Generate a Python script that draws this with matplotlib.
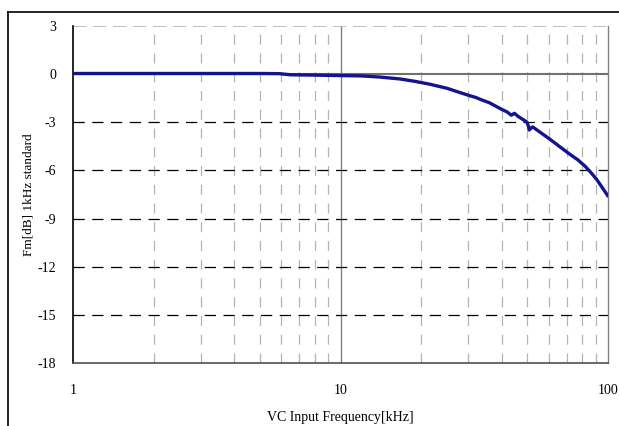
import matplotlib.pyplot as plt
from matplotlib.lines import Line2D
import numpy as np

# frequency response, 1 kHz reference
freq_khz = [1.0, 2.0, 3.0, 4.0, 5.0, 5.9, 6.5, 8.0, 10.0, 12.0, 14.0, 16.7,
            19.0, 21.6, 25.0, 28.0, 30.5, 32.0, 34.0, 36.0, 40.0, 42.0, 43.5,
            44.7, 46.0, 48.0, 49.7, 50.3, 50.8, 51.5, 52.3, 55.0, 60.7, 66.0,
            72.1, 77.0, 82.0, 86.0, 90.7, 95.0, 100.0]
level_db = [0.04, 0.04, 0.04, 0.04, 0.04, 0.03, -0.04, -0.06, -0.09, -0.11, -0.18, -0.3,
            -0.45, -0.63, -0.88, -1.15, -1.35, -1.45, -1.63, -1.78, -2.19, -2.36, -2.56,
            -2.44, -2.62, -2.82, -2.98, -3.2, -3.48, -3.36, -3.29, -3.55, -4.06, -4.52,
            -5.0, -5.33, -5.73, -6.1, -6.56, -7.05, -7.6]

y_ticks = [3, 0, -3, -6, -9, -12, -15, -18]
x_ticks = [1, 10, 100]
x_ticklabels = ['1', '10', '100']

plt.rcParams['font.family'] = ['Liberation Serif', 'DejaVu Serif']

fig = plt.figure(figsize=(6.19, 4.26), dpi=100)
ax = fig.add_axes([73 / 619, 1 - 363 / 426, 535 / 619, 337 / 426])

ax.set_xscale('log')
ax.set_xlim(1, 100)
ax.set_ylim(-18, 3)

# vertical grid: minor decades dashed light gray, 10 kHz solid
for decade in [1, 10]:
    for k in range(2, 10):
        ax.axvline(decade * k, color='#b4b4b4', lw=0.9, dashes=(8, 7), zorder=1)
ax.axvline(10, color='#808080', lw=1.0, zorder=1)

# horizontal grid
for yv in [-3, -6, -9, -12, -15]:
    ax.axhline(yv, color='black', lw=0.9, dashes=(9, 6), zorder=1)
ax.axhline(0, color='#707070', lw=1.5, zorder=1)
ax.axhline(3, color='#b4b4b4', lw=1.2, dashes=(8, 4), zorder=1)

ax.plot(freq_khz, level_db, color='#14148c', lw=2.4, zorder=3,
        solid_joinstyle='round', solid_capstyle='round')

ax.set_yticks(y_ticks)
ax.set_yticklabels([str(v) for v in y_ticks])
ax.set_xticks(x_ticks)
ax.set_xticklabels(x_ticklabels)
ax.xaxis.set_minor_locator(plt.NullLocator())
ax.tick_params(axis='both', length=0, labelsize=10)
ax.tick_params(axis='y', pad=12)
ax.tick_params(axis='x', pad=15)

ax.spines['left'].set_color('black')
ax.spines['left'].set_linewidth(1.2)
ax.spines['bottom'].set_color('#505050')
ax.spines['bottom'].set_linewidth(1.2)
ax.spines['right'].set_color('#808080')
ax.spines['right'].set_linewidth(1.0)
ax.spines['top'].set_visible(False)

ax.set_xlabel('VC Input Frequency[kHz]', fontsize=10, labelpad=10)
ax.set_ylabel('Fm[dB] 1kHz standard', fontsize=9.5, labelpad=2)

# outer chart frame (left and top edges)
fig.add_artist(Line2D([8 / 619, 8 / 619], [0, 1 - 11.5 / 426],
                      transform=fig.transFigure, color='black', lw=1.2))
fig.add_artist(Line2D([8 / 619, 1], [1 - 11.5 / 426, 1 - 11.5 / 426],
                      transform=fig.transFigure, color='black', lw=1.2))

fig.savefig('out.png', dpi=100)
